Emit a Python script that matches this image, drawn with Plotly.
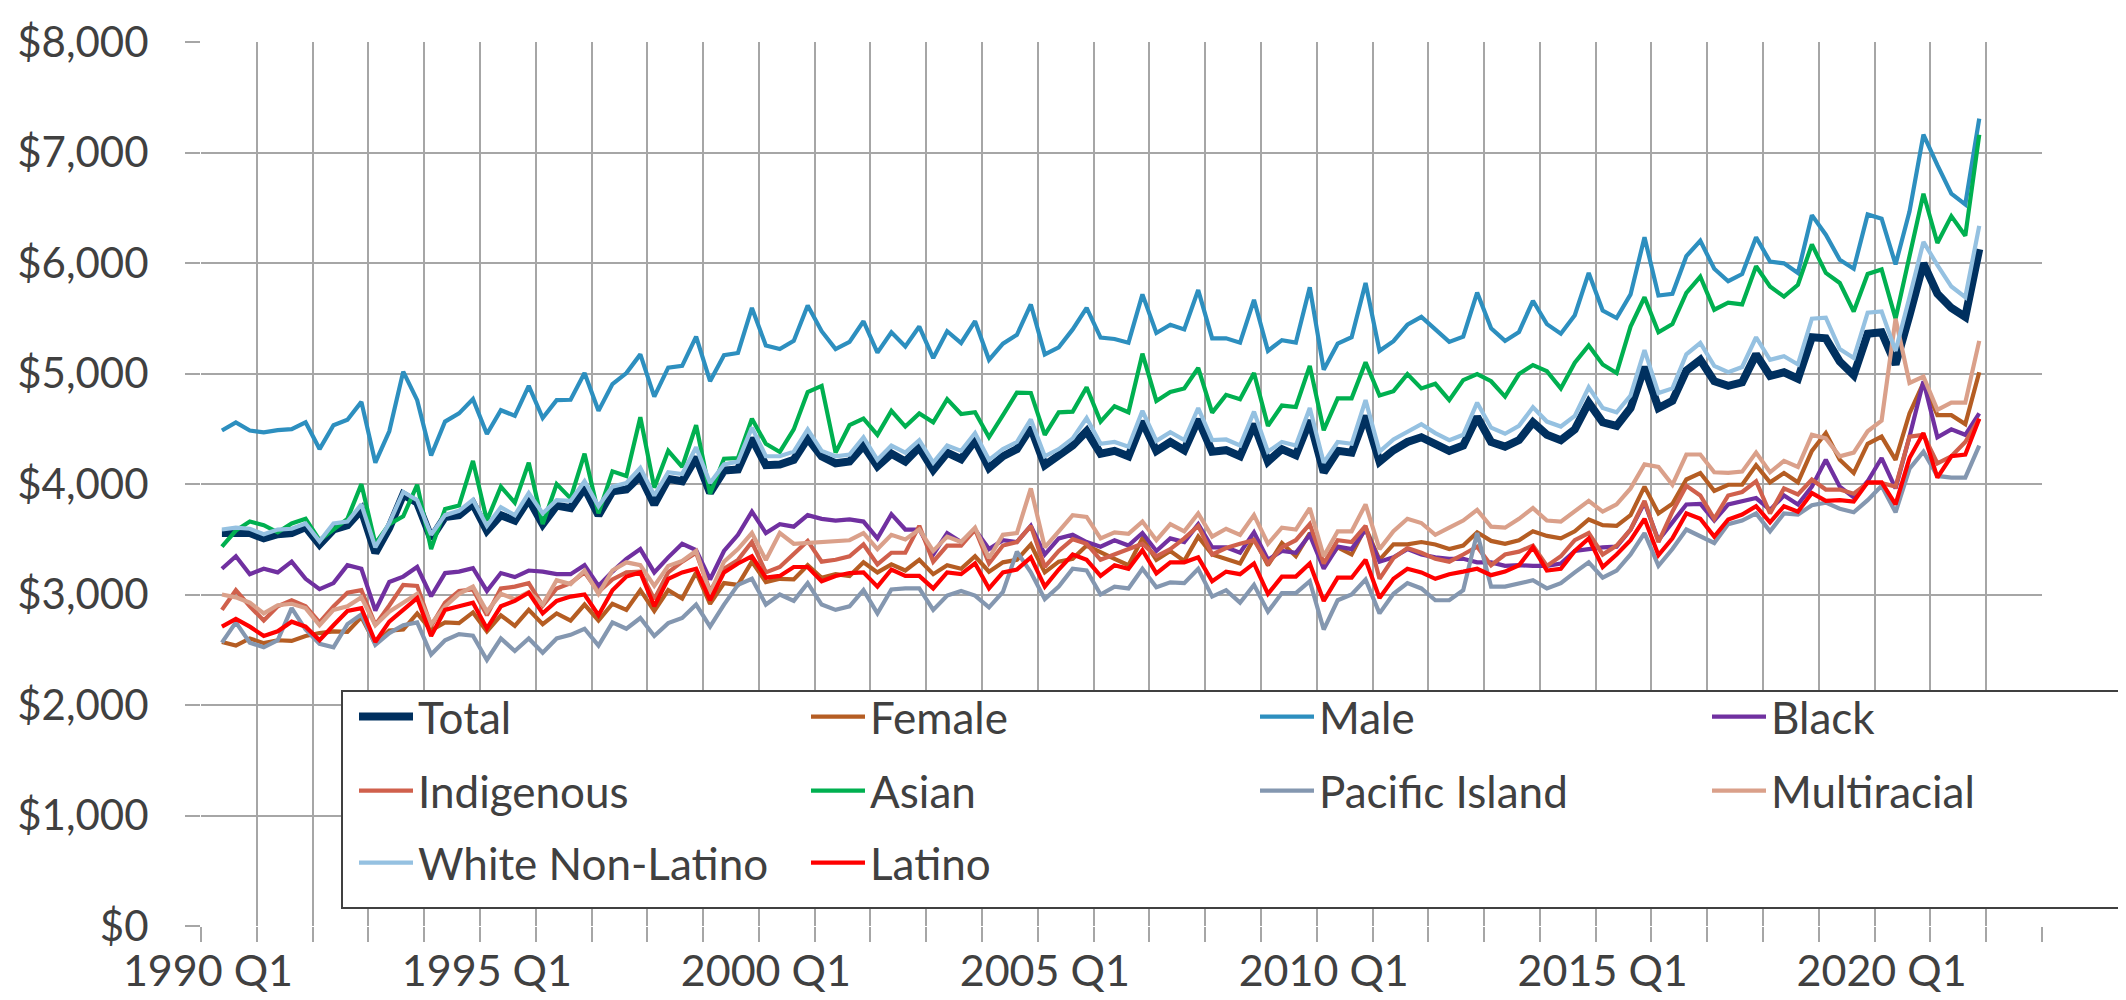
import plotly.graph_objects as go

# ---------------- data ----------------
quarters = [f"{y} Q{q}" for y in range(1990, 2023) for q in range(1, 5)]
data_quarters = quarters[1:128]  # 1990 Q2 .. 2021 Q4
tick_labels = ["1990 Q1", "1995 Q1", "2000 Q1", "2005 Q1", "2010 Q1", "2015 Q1", "2020 Q1"]

total = [3556, 3563, 3556, 3508, 3546, 3556, 3611, 3453, 3588, 3627, 3766, 3378, 3605, 3905, 3831, 3508, 3702, 3718, 3821, 3579, 3718,
         3669, 3863, 3637, 3805, 3782, 3967, 3718, 3934, 3950, 4073, 3815, 4047, 4025, 4241, 3921, 4122, 4132, 4413, 4170, 4177, 4219,
         4413, 4251, 4187, 4203, 4348, 4161, 4274, 4203, 4332, 4128, 4284, 4225, 4397, 4145, 4251, 4316, 4510, 4170, 4251, 4348, 4477,
         4274, 4300, 4251, 4565, 4300, 4380, 4306, 4584, 4293, 4306, 4251, 4542, 4203, 4316, 4261, 4574, 4106, 4300, 4284, 4617,
         4203, 4306, 4380, 4423, 4355, 4300, 4348, 4607, 4380, 4338, 4397, 4558, 4445, 4397, 4494, 4736, 4558, 4526, 4688, 5059, 4688,
         4752, 5027, 5124, 4930, 4888, 4920, 5173, 4979, 5011, 4953, 5328, 5318, 5108, 4985, 5360, 5373, 5082, 5528, 5997, 5722, 5593, 5512, 6126]

female = [2570, 2538, 2602, 2560, 2586, 2580, 2625, 2651, 2667, 2661, 2796, 2554, 2673, 2683, 2829, 2677, 2748, 2741, 2838, 2667, 2812,
          2716, 2861, 2732, 2829, 2764, 2909, 2764, 2916, 2861, 3039, 2851, 3039, 2964, 3200, 2916, 3103, 3087, 3297, 3113, 3142, 3136,
          3265, 3152, 3184, 3168, 3291, 3200, 3272, 3217, 3314, 3184, 3265, 3233, 3346, 3207, 3291, 3314, 3453, 3200, 3297, 3323, 3443,
          3378, 3323, 3265, 3508, 3314, 3394, 3304, 3524, 3362, 3323, 3281, 3508, 3265, 3466, 3346, 3556, 3265, 3427, 3362, 3605,
          3314, 3453, 3453, 3475, 3453, 3411, 3443, 3563, 3485, 3459, 3491, 3572, 3530, 3508, 3572, 3679, 3627, 3621, 3718, 3976, 3734,
          3821, 4041, 4099, 3938, 3993, 3993, 4170, 4015, 4099, 4015, 4300, 4461, 4219, 4099, 4364, 4429, 4219, 4639, 4914, 4623, 4623, 4542, 5011]

male = [4484, 4558, 4484, 4468, 4487, 4497, 4558, 4316, 4532, 4581, 4743, 4193, 4477, 5017, 4759, 4258, 4565, 4639, 4768, 4452, 4668,
        4617, 4888, 4597, 4759, 4762, 5004, 4662, 4904, 5004, 5173, 4791, 5053, 5069, 5334, 4930, 5166, 5186, 5593, 5253, 5221, 5295,
        5615, 5383, 5221, 5286, 5473, 5189, 5373, 5244, 5425, 5140, 5383, 5276, 5473, 5124, 5270, 5350, 5625, 5173, 5237, 5399, 5593,
        5325, 5312, 5279, 5716, 5367, 5441, 5399, 5755, 5318, 5318, 5279, 5667, 5205, 5302, 5279, 5780, 5034, 5270, 5328, 5819,
        5205, 5292, 5441, 5512, 5399, 5286, 5334, 5732, 5409, 5295, 5376, 5658, 5447, 5360, 5528, 5910, 5570, 5502, 5716, 6233, 5706,
        5722, 6062, 6201, 5948, 5835, 5900, 6233, 6013, 5997, 5910, 6433, 6256, 6029, 5948, 6440, 6401, 5987, 6466, 7161, 6886, 6627, 6530, 7306]

black = [3233, 3346, 3184, 3233, 3200, 3297, 3142, 3048, 3103, 3265, 3233, 2855, 3113, 3162, 3249, 2984, 3194, 3207, 3239, 3032, 3194,
         3158, 3217, 3207, 3184, 3184, 3265, 3078, 3207, 3323, 3411, 3200, 3336, 3459, 3401, 3136, 3394, 3540, 3750, 3556, 3637, 3614,
         3718, 3685, 3669, 3679, 3660, 3508, 3727, 3588, 3588, 3362, 3556, 3475, 3588, 3411, 3491, 3475, 3621, 3362, 3508, 3540, 3475,
         3433, 3491, 3443, 3556, 3394, 3508, 3475, 3637, 3427, 3427, 3378, 3563, 3314, 3394, 3378, 3540, 3233, 3433, 3411, 3588,
         3297, 3336, 3411, 3362, 3336, 3323, 3323, 3291, 3291, 3259, 3265, 3259, 3259, 3281, 3394, 3411, 3427, 3433, 3588, 3831, 3491,
         3653, 3815, 3821, 3669, 3815, 3847, 3873, 3766, 3896, 3815, 3976, 4219, 3976, 3879, 4025, 4235, 3960, 4429, 4930, 4423, 4494, 4445, 4639]

indigenous = [2861, 3039, 2893, 2764, 2893, 2948, 2893, 2748, 2893, 3016, 3039, 2725, 2900, 3087, 3078, 2716, 2926, 3032, 3045, 2812, 3055,
              3071, 3103, 2900, 3055, 3103, 3200, 3023, 3136, 3200, 3207, 2958, 3200, 3297, 3378, 3032, 3233, 3313, 3475, 3200, 3249, 3362,
              3485, 3297, 3314, 3346, 3453, 3272, 3378, 3378, 3621, 3297, 3443, 3443, 3588, 3281, 3443, 3475, 3621, 3249, 3394, 3501, 3459,
              3314, 3362, 3411, 3459, 3346, 3411, 3508, 3621, 3362, 3420, 3459, 3491, 3281, 3427, 3491, 3637, 3281, 3491, 3475, 3621,
              3142, 3330, 3420, 3378, 3323, 3297, 3362, 3433, 3265, 3362, 3388, 3443, 3259, 3346, 3491, 3556, 3362, 3443, 3588, 3847, 3475,
              3750, 3983, 3896, 3685, 3896, 3928, 4025, 3734, 3960, 3905, 4041, 3950, 3950, 3912, 4009, 4009, 3976, 4429, 4445, 4187, 4251, 4380, 4591]

asian = [3433, 3579, 3660, 3627, 3563, 3643, 3685, 3491, 3588, 3685, 3999, 3459, 3637, 3708, 3993, 3411, 3773, 3805, 4209, 3669, 3976,
         3831, 4193, 3637, 3999, 3870, 4274, 3734, 4115, 4073, 4604, 3967, 4300, 4154, 4532, 3912, 4229, 4235, 4591, 4364, 4290, 4494,
         4833, 4888, 4284, 4532, 4591, 4445, 4662, 4520, 4639, 4558, 4768, 4633, 4649, 4423, 4623, 4827, 4824, 4445, 4649, 4655, 4875,
         4565, 4704, 4649, 5179, 4752, 4833, 4865, 5050, 4646, 4807, 4768, 5004, 4526, 4710, 4697, 5069, 4487, 4775, 4775, 5101,
         4801, 4840, 4995, 4865, 4907, 4759, 4940, 4995, 4930, 4791, 4995, 5076, 5021, 4865, 5098, 5253, 5082, 5004, 5425, 5690, 5373,
         5447, 5729, 5877, 5577, 5641, 5625, 5971, 5787, 5696, 5803, 6168, 5910, 5819, 5561, 5900, 5942, 5496, 6045, 6627, 6181, 6424, 6246, 7161]

pacific = [2564, 2748, 2564, 2522, 2586, 2877, 2683, 2554, 2522, 2732, 2819, 2544, 2651, 2722, 2748, 2457, 2586, 2641, 2628, 2408, 2602,
           2489, 2602, 2473, 2602, 2635, 2690, 2538, 2748, 2690, 2787, 2625, 2741, 2787, 2909, 2709, 2909, 3087, 3142, 2909, 3000, 2942,
           3103, 2909, 2861, 2893, 3039, 2829, 3045, 3055, 3055, 2861, 2990, 3032, 2990, 2884, 3023, 3388, 3200, 2958, 3071, 3233, 3217,
           3000, 3071, 3055, 3233, 3065, 3110, 3103, 3233, 2981, 3039, 2926, 3087, 2845, 3013, 3013, 3120, 2683, 2948, 3000, 3136,
           2829, 3006, 3103, 3055, 2948, 2948, 3039, 3556, 3071, 3071, 3097, 3129, 3055, 3103, 3200, 3291, 3152, 3217, 3362, 3556, 3259,
           3411, 3588, 3530, 3466, 3637, 3669, 3734, 3572, 3734, 3724, 3808, 3831, 3776, 3744, 3854, 3983, 3744, 4138, 4293, 4073, 4057, 4057, 4348]

multiracial = [3000, 2974, 2926, 2829, 2903, 2916, 2877, 2722, 2861, 2893, 2974, 2722, 2845, 2926, 3006, 2732, 2893, 3006, 3071, 2845, 3006,
               2958, 3023, 2909, 3129, 3094, 3217, 3006, 3217, 3291, 3265, 3078, 3259, 3304, 3394, 3013, 3297, 3411, 3556, 3313, 3556, 3459,
               3466, 3475, 3482, 3491, 3556, 3411, 3540, 3498, 3588, 3394, 3524, 3475, 3605, 3330, 3540, 3556, 3960, 3427, 3572, 3718, 3702,
               3508, 3563, 3550, 3660, 3491, 3637, 3572, 3734, 3524, 3595, 3540, 3718, 3459, 3605, 3588, 3782, 3346, 3572, 3572, 3815,
               3411, 3572, 3685, 3647, 3540, 3605, 3669, 3766, 3614, 3605, 3685, 3782, 3669, 3660, 3750, 3847, 3750, 3815, 3960, 4177, 4154,
               3993, 4267, 4267, 4106, 4100, 4112, 4284, 4106, 4209, 4154, 4445, 4413, 4251, 4284, 4477, 4574, 5496, 4914, 4972, 4671, 4736, 4736, 5295]

white = [3588, 3605, 3595, 3546, 3588, 3595, 3643, 3482, 3643, 3660, 3815, 3427, 3647, 3928, 3854, 3540, 3718, 3757, 3857, 3621, 3789,
         3718, 3918, 3734, 3854, 3847, 4025, 3799, 3976, 4009, 4145, 3896, 4106, 4090, 4332, 4009, 4177, 4203, 4510, 4251, 4251, 4293,
         4494, 4300, 4251, 4267, 4423, 4219, 4348, 4284, 4397, 4193, 4348, 4300, 4461, 4219, 4316, 4380, 4584, 4251, 4316, 4413, 4597,
         4364, 4380, 4338, 4662, 4390, 4468, 4397, 4688, 4397, 4403, 4348, 4655, 4293, 4380, 4348, 4688, 4193, 4380, 4364, 4759,
         4293, 4403, 4477, 4542, 4461, 4397, 4445, 4736, 4510, 4455, 4526, 4694, 4565, 4520, 4617, 4875, 4688, 4649, 4801, 5211, 4823,
         4865, 5173, 5276, 5069, 5011, 5059, 5328, 5124, 5156, 5082, 5496, 5506, 5221, 5140, 5551, 5561, 5205, 5690, 6191, 5981, 5787, 5690, 6336]

latino = [2709, 2780, 2709, 2625, 2667, 2754, 2709, 2586, 2722, 2851, 2877, 2570, 2754, 2861, 2968, 2625, 2861, 2893, 2926, 2693, 2893,
          2942, 3016, 2829, 2942, 2981, 3000, 2812, 3039, 3162, 3200, 2893, 3142, 3200, 3233, 2948, 3200, 3281, 3346, 3152, 3168, 3249,
          3249, 3120, 3168, 3194, 3200, 3071, 3226, 3168, 3168, 3055, 3200, 3184, 3281, 3055, 3200, 3226, 3336, 3071, 3226, 3362, 3314,
          3168, 3265, 3233, 3401, 3191, 3291, 3291, 3336, 3120, 3207, 3184, 3281, 3006, 3162, 3162, 3281, 2942, 3152, 3152, 3314,
          2968, 3142, 3233, 3200, 3142, 3184, 3207, 3233, 3175, 3207, 3265, 3427, 3217, 3233, 3394, 3508, 3249, 3362, 3491, 3685, 3356,
          3508, 3734, 3685, 3524, 3679, 3724, 3799, 3653, 3799, 3750, 3918, 3847, 3854, 3841, 4015, 4015, 3815, 4235, 4461, 4057, 4251, 4267, 4591]

series_names = ["Total", "Female", "Male", "Black", "Indigenous", "Asian",
                "Pacific Island", "Multiracial", "White Non-Latino", "Latino"]
series_values = [total, female, male, black, indigenous, asian, pacific, multiracial, white, latino]

# ---------------- styles ----------------
colors = ["#00305F", "#B55D23", "#2D8FBF", "#7030A0", "#D0604C", "#00B050",
          "#8497B0", "#DAA08A", "#95C1E1", "#FF0000"]
widths = [8, 4.2, 4.2, 4.2, 4.2, 4.2, 4.2, 4.2, 4.2, 4.2]

TEXT = "#404040"
GRID = "#A6A6A6"
FONT = "Lato"

W, H = 2126, 1000
ML, MR, MT, MB = 193, 92, 34, 82
PW, PH = W - ML - MR, H - MT - MB

def px_x(px):
    return (px - ML) / PW

def px_y(py):
    return (H - MB - py) / PH

x_idx = [quarters.index(q) for q in data_quarters]

fig = go.Figure()

# legend layout: 4 columns x 3 rows (positions in pixels)
col_px = [346, 798, 1247, 1699]
row_px = [709, 783, 855]

for i, (name, vals) in enumerate(zip(series_names, series_values)):
    lg = "legend" if i == 0 else f"legend{i+1}"
    fig.add_trace(go.Scatter(
        x=x_idx, y=vals, name=name, mode="lines",
        line=dict(color=colors[i], width=widths[i]),
        legend=lg, showlegend=True, hoverinfo="skip",
    ))

legend_defs = {}
for i in range(len(series_names)):
    r, c = divmod(i, 4)
    lg = "legend" if i == 0 else f"legend{i+1}"
    legend_defs[lg] = dict(
        x=px_x(col_px[c]), y=px_y(row_px[r]), xref="paper", yref="paper",
        xanchor="left", yanchor="middle", orientation="v",
        bgcolor="rgba(0,0,0,0)", borderwidth=0,
        font=dict(family=FONT, size=44, color=TEXT),
        itemwidth=54, itemclick=False, itemdoubleclick=False,
    )

fig.update_layout(
    width=W, height=H,
    margin=dict(l=ML, r=MR, t=MT, b=MB, autoexpand=False),
    paper_bgcolor="white", plot_bgcolor="white",
    font=dict(family=FONT, size=42, color=TEXT),
    showlegend=True,
    **legend_defs,
)

# legend frame
fig.add_shape(type="rect", xref="paper", yref="paper",
              x0=px_x(334), x1=px_x(2122), y0=px_y(900), y1=px_y(683),
              line=dict(color=TEXT, width=2), fillcolor="white", layer="above")

fig.update_xaxes(
    range=[-0.5, len(quarters) - 0.5],
    tickmode="array",
    tickvals=[quarters.index(t) for t in tick_labels],
    ticktext=tick_labels,
    ticks="", showgrid=False, zeroline=False, showline=False,
    tickfont=dict(family=FONT, size=43, color=TEXT),
    ticklabelstandoff=16,
    minor=dict(tickmode="linear", tick0=-0.5, dtick=4, showgrid=True,
               gridcolor=GRID, gridwidth=1.5, ticks="outside", ticklen=15,
               tickcolor=GRID, tickwidth=1.5),
)
fig.update_yaxes(
    range=[0, 8000], dtick=1000, tick0=0,
    tickprefix="$", tickformat=",d",
    showgrid=True, gridcolor=GRID, gridwidth=1.5, zeroline=False, showline=False,
    ticks="outside", ticklen=15, tickcolor=GRID, tickwidth=1.5,
    tickfont=dict(family=FONT, size=42, color=TEXT),
    ticklabelstandoff=28,
)

fig.write_html("out.html", config={"displayModeBar": False})
